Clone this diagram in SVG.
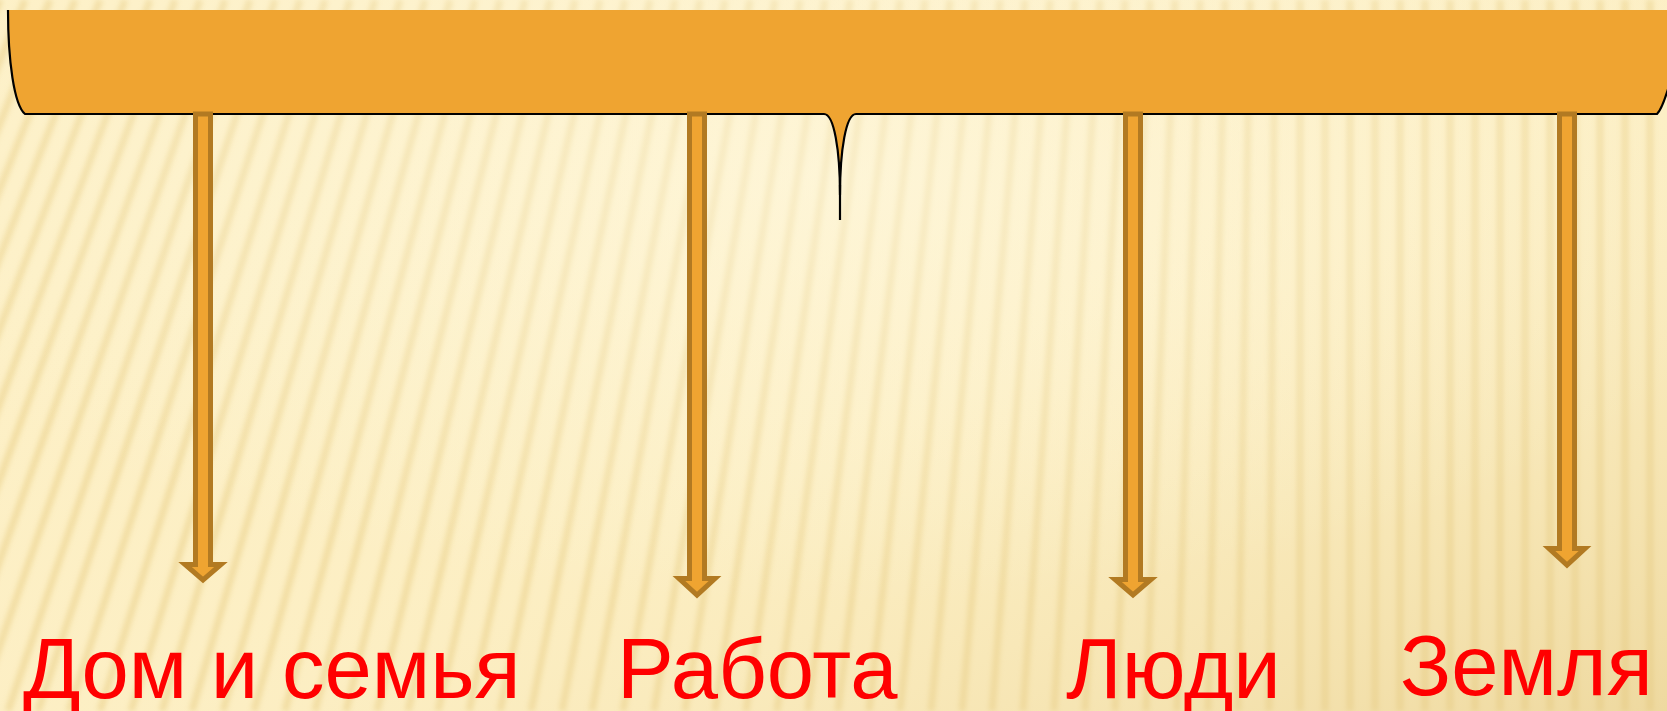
<svg xmlns="http://www.w3.org/2000/svg" width="1667" height="711" viewBox="0 0 1667 711">
<style>
.lbl{font-family:"Liberation Sans",Arial,sans-serif;font-size:85px;fill:#ff0000}
.arr{fill:#efa431;stroke:#b27a22;stroke-width:5;stroke-linejoin:miter}
.stripe{fill:none;stroke:#ead08a;stroke-width:7;opacity:0.6}
</style>
<defs>
<filter id="blur" x="-5%" y="-5%" width="110%" height="110%"><feGaussianBlur stdDeviation="2.5"/></filter>
<linearGradient id="shade" x1="0" y1="0" x2="1" y2="1">
<stop offset="0" stop-color="#fff6d6" stop-opacity="0"/>
<stop offset="0.55" stop-color="#f6e3ae" stop-opacity="0.1"/>
<stop offset="1" stop-color="#e2c680" stop-opacity="0.55"/>
</linearGradient>
<radialGradient id="glow" cx="0.5" cy="0.25" r="0.6">
<stop offset="0" stop-color="#fffbe8" stop-opacity="0.5"/>
<stop offset="1" stop-color="#fffbe8" stop-opacity="0"/>
</radialGradient>
</defs>
<g id="background">
<rect width="1667" height="711" fill="#fdf0c6"/>
<path class="stripe" filter="url(#blur)" d="M0 0L-300 711M25 0L-269 711M50 0L-238 711M75 0L-208 711M100 0L-177 711M125 0L-146 711M150 0L-115 711M175 0L-85 711M200 0L-54 711M225 0L-23 711M250 0L8 711M275 0L38 711M300 0L69 711M325 0L100 711M350 0L131 711M375 0L162 711M400 0L192 711M425 0L223 711M450 0L254 711M475 0L285 711M500 0L315 711M525 0L346 711M550 0L377 711M575 0L408 711M600 0L438 711M625 0L469 711M650 0L500 711M675 0L531 711M700 0L562 711M725 0L592 711M750 0L623 711M775 0L654 711M800 0L685 711M825 0L715 711M850 0L746 711M875 0L777 711M900 0L808 711M925 0L838 711M950 0L869 711M975 0L900 711M1000 0L931 711M1025 0L962 711M1050 0L992 711M1075 0L1023 711M1100 0L1054 711M1125 0L1085 711M1150 0L1115 711M1175 0L1146 711M1200 0L1177 711M1225 0L1208 711M1250 0L1238 711M1275 0L1269 711M1300 0L1300 711M1325 0L1325 711M1350 0L1350 711M1375 0L1375 711M1400 0L1400 711M1425 0L1425 711M1450 0L1450 711M1475 0L1475 711M1500 0L1500 711M1525 0L1525 711M1550 0L1550 711M1575 0L1575 711M1600 0L1600 711M1625 0L1625 711M1650 0L1650 711"/>
<rect width="1667" height="711" fill="url(#shade)"/>
<rect width="1667" height="711" fill="url(#glow)"/>
</g>
<g id="brace">
<path d="M8 10L1680 10L1680 60C1668 80 1666 105 1657 114L856 114C846 114 840 150 840 195C840 150 834 114 824 114L25 114C14 105 8 60 8 10Z" fill="#efa431"/>
<path d="M8 10C8 60 14 105 25 114L824 114C834 114 840 150 840 195C840 150 846 114 856 114L1657 114C1666 105 1668 80 1680 60" fill="none" stroke="#000" stroke-width="2.2"/>
<line x1="840" y1="185" x2="840" y2="220" stroke="#000" stroke-width="2.2"/>
</g>
<g id="connectors">
<polygon class="arr" points="195.5,114 210.5,114 210.5,564.5 221,564.5 203,580 185,564.5 195.5,564.5"/>
<polygon class="arr" points="689.5,114 704.5,114 704.5,578.5 715,578.5 697,595 679,578.5 689.5,578.5"/>
<polygon class="arr" points="1125.5,114 1140.5,114 1140.5,579.5 1151,579.5 1133,595 1115,579.5 1125.5,579.5"/>
<polygon class="arr" points="1559.5,114 1574.5,114 1574.5,548.5 1585,548.5 1567,565 1549,548.5 1559.5,548.5"/>
</g>
<g id="node-dom"><text class="lbl" x="23" y="698">Дом и семья</text></g>
<g id="node-rabota"><text class="lbl" x="617" y="698">Работа</text></g>
<g id="node-lyudi"><text class="lbl" x="1066" y="698">Люди</text></g>
<g id="node-zemlya"><text class="lbl" x="1400" y="695">Земля</text></g>
</svg>
